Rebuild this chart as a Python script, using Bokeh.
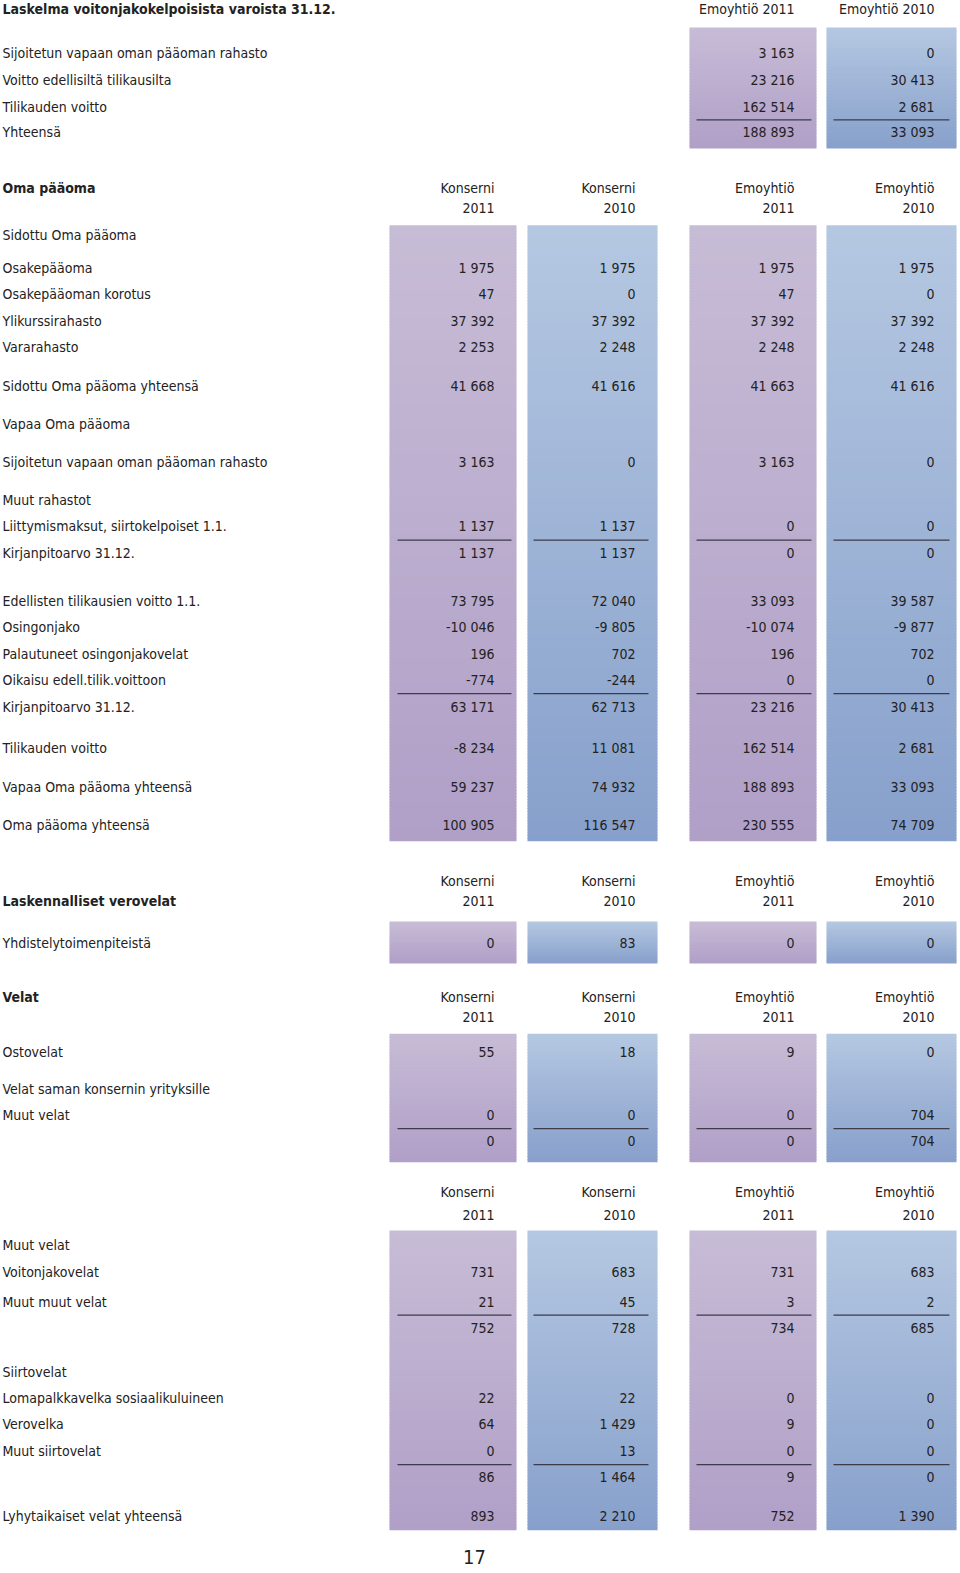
from bokeh.plotting import figure
from bokeh.models import ColumnDataSource, Range1d
from bokeh.core.properties import value
from bokeh.embed import file_html
from bokeh.resources import INLINE

# ---------------- data ----------------
title = "Laskelma voitonjakokelpoisista varoista 31.12."
top_headers = ["Emoyhtiö 2011", "Emoyhtiö 2010"]
col_kind = ["Konserni", "Konserni", "Emoyhtiö", "Emoyhtiö"]
col_year = ["2011", "2010", "2011", "2010"]

top_labels = ["Sijoitetun vapaan oman pääoman rahasto", "Voitto edellisiltä tilikausilta",
              "Tilikauden voitto", "Yhteensä"]
top_emo2011 = [3163, 23216, 162514, 188893]
top_emo2010 = [0, 30413, 2681, 33093]

oma_title = "Oma pääoma"
oma_labels = ["Sidottu Oma pääoma", "Osakepääoma", "Osakepääoman korotus", "Ylikurssirahasto",
              "Vararahasto", "Sidottu Oma pääoma yhteensä", "Vapaa Oma pääoma",
              "Sijoitetun vapaan oman pääoman rahasto", "Muut rahastot",
              "Liittymismaksut, siirtokelpoiset 1.1.", "Kirjanpitoarvo 31.12.",
              "Edellisten tilikausien voitto 1.1.", "Osingonjako", "Palautuneet osingonjakovelat",
              "Oikaisu edell.tilik.voittoon", "Kirjanpitoarvo 31.12.", "Tilikauden voitto",
              "Vapaa Oma pääoma yhteensä", "Oma pääoma yhteensä"]
oma_kon2011 = [None, 1975, 47, 37392, 2253, 41668, None, 3163, None, 1137, 1137,
               73795, -10046, 196, -774, 63171, -8234, 59237, 100905]
oma_kon2010 = [None, 1975, 0, 37392, 2248, 41616, None, 0, None, 1137, 1137,
               72040, -9805, 702, -244, 62713, 11081, 74932, 116547]
oma_emo2011 = [None, 1975, 47, 37392, 2248, 41663, None, 3163, None, 0, 0,
               33093, -10074, 196, 0, 23216, 162514, 188893, 230555]
oma_emo2010 = [None, 1975, 0, 37392, 2248, 41616, None, 0, None, 0, 0,
               39587, -9877, 702, 0, 30413, 2681, 33093, 74709]

vero_title = "Laskennalliset verovelat"
vero_labels = ["Yhdistelytoimenpiteistä"]
vero_kon2011 = [0]
vero_kon2010 = [83]
vero_emo2011 = [0]
vero_emo2010 = [0]

velat_title = "Velat"
velat_labels = ["Ostovelat", "Velat saman konsernin yrityksille", "Muut velat", ""]
velat_kon2011 = [55, None, 0, 0]
velat_kon2010 = [18, None, 0, 0]
velat_emo2011 = [9, None, 0, 0]
velat_emo2010 = [0, None, 704, 704]

muut_labels = ["Muut velat", "Voitonjakovelat", "Muut muut velat", "", "Siirtovelat",
               "Lomapalkkavelka sosiaalikuluineen", "Verovelka", "Muut siirtovelat", "",
               "Lyhytaikaiset velat yhteensä"]
muut_kon2011 = [None, 731, 21, 752, None, 22, 64, 0, 86, 893]
muut_kon2010 = [None, 683, 45, 728, None, 22, 1429, 13, 1464, 2210]
muut_emo2011 = [None, 731, 3, 734, None, 0, 9, 0, 9, 752]
muut_emo2010 = [None, 683, 2, 685, None, 0, 0, 0, 0, 1390]

page_number = "17"

# ---------------- layout / style ----------------
FONT = "Noto Sans Condensed, DejaVu Sans Condensed, Liberation Sans Narrow, Roboto, sans-serif"
FSIZE = "14px"
TXT = "#222222"
RULE = "#3d3a4a"
PURPLE = ((199, 188, 214), (176, 159, 199))
BLUE = ((181, 200, 226), (135, 160, 203))
COL_X = [(389, 516), (527, 657), (689, 816), (826, 956)]
COL_GRAD = [PURPLE, BLUE, PURPLE, BLUE]
NUM_RIGHT = [494, 635, 794, 934]
RULE_X = [(397, 511), (533, 648), (696, 811), (833, 949)]
LABEL_X = 2
SY = 1573 / 1568  # layout rows were measured on the reduced view

sections = [
    dict(labels=top_labels, cols=[None, None, top_emo2011, top_emo2010],
         rows_y=[52, 79, 106, 131], box=(27, 147.5), rules=[2], header=None, title=None),
    dict(labels=oma_labels, cols=[oma_kon2011, oma_kon2010, oma_emo2011, oma_emo2010],
         rows_y=[234, 267, 293, 319, 345, 384, 422, 460, 498, 524, 551, 599, 625, 651, 677,
                 704, 745, 784, 822],
         box=(224, 838), rules=[9, 14], header=(187, 207), title=(oma_title, 187)),
    dict(labels=vero_labels, cols=[vero_kon2011, vero_kon2010, vero_emo2011, vero_emo2010],
         rows_y=[940], box=(918, 960), rules=[], header=(878, 898), title=(vero_title, 898)),
    dict(labels=velat_labels, cols=[velat_kon2011, velat_kon2010, velat_emo2011, velat_emo2010],
         rows_y=[1048, 1085, 1111, 1137], box=(1030, 1158), rules=[2], header=(993, 1013),
         title=(velat_title, 993)),
    dict(labels=muut_labels, cols=[muut_kon2011, muut_kon2010, muut_emo2011, muut_emo2010],
         rows_y=[1241, 1267, 1297, 1323, 1367, 1393, 1419, 1446, 1472, 1511],
         box=(1226, 1525), rules=[2, 7], header=(1188, 1211), title=None),
]
TITLE_Y = 8
PAGE_NO_Y = 1556


def fmt(v):
    s = f"{abs(v):,}".replace(",", " ")
    return ("-" if v < 0 else "") + s


def lerp(c0, c1, t):
    r, g, b = (round(a + (b_ - a) * t) for a, b_ in zip(c0, c1))
    return "#%02x%02x%02x" % (r, g, b)


p = figure(width=960, height=1573, x_range=Range1d(0, 960), y_range=Range1d(1573, 0),
           output_backend="svg", toolbar_location=None, min_border=0,
           x_axis_type=None, y_axis_type=None)
p.grid.visible = False
p.outline_line_color = None
p.background_fill_color = "white"
p.border_fill_color = "white"

# gradient boxes
q = dict(left=[], right=[], top=[], bottom=[], color=[])
for sec in sections:
    y0, y1 = (v * SY for v in sec["box"])
    n = max(8, int((y1 - y0) / 3))
    for ci, col in enumerate(sec["cols"]):
        if col is None:
            continue
        x0, x1 = COL_X[ci]
        c_top, c_bot = COL_GRAD[ci]
        for k in range(n):
            a = y0 + (y1 - y0) * k / n
            b = y0 + (y1 - y0) * (k + 1) / n
            q["left"].append(x0)
            q["right"].append(x1)
            q["top"].append(a)
            q["bottom"].append(min(b + 0.8, y1))
            q["color"].append(lerp(c_top, c_bot, (k + 0.5) / n))
p.quad(left="left", right="right", top="top", bottom="bottom", fill_color="color",
       line_color=None, source=ColumnDataSource(q))

# rules
seg = dict(x0=[], x1=[], y=[])
for sec in sections:
    ys = sec["rows_y"]
    for r in sec["rules"]:
        yy = ((ys[r] + ys[r + 1]) / 2 + 0.5) * SY
        for ci, col in enumerate(sec["cols"]):
            if col is None:
                continue
            seg["x0"].append(RULE_X[ci][0])
            seg["x1"].append(RULE_X[ci][1])
            seg["y"].append(yy)
p.segment(x0="x0", y0="y", x1="x1", y1="y", line_color=RULE, line_width=1.3,
          source=ColumnDataSource(seg))

# texts
lab = dict(x=[], y=[], t=[])
num = dict(x=[], y=[], t=[])
bold = dict(x=[], y=[], t=[])
for sec in sections:
    for i, (lbl, yy) in enumerate(zip(sec["labels"], sec["rows_y"])):
        if lbl:
            lab["x"].append(LABEL_X)
            lab["y"].append(yy * SY)
            lab["t"].append(lbl)
        for ci, col in enumerate(sec["cols"]):
            if col is None or col[i] is None:
                continue
            num["x"].append(NUM_RIGHT[ci])
            num["y"].append(yy * SY)
            num["t"].append(fmt(col[i]))
    if sec["header"]:
        h0, h1 = sec["header"]
        for ci in range(4):
            num["x"] += [NUM_RIGHT[ci], NUM_RIGHT[ci]]
            num["y"] += [h0 * SY, h1 * SY]
            num["t"] += [col_kind[ci], col_year[ci]]
    if sec["title"]:
        bold["x"].append(LABEL_X)
        bold["y"].append(sec["title"][1] * SY)
        bold["t"].append(sec["title"][0])

bold["x"].append(LABEL_X)
bold["y"].append(TITLE_Y)
bold["t"].append(title)
for ci, h in zip([2, 3], top_headers):
    num["x"].append(NUM_RIGHT[ci])
    num["y"].append(TITLE_Y)
    num["t"].append(h)

common = dict(text_baseline="middle", text_font=value(FONT), text_font_size=FSIZE,
              text_color=TXT)
p.text(x="x", y="y", text="t", source=ColumnDataSource(lab), text_align="left", **common)
p.text(x="x", y="y", text="t", source=ColumnDataSource(num), text_align="right", **common)
p.text(x="x", y="y", text="t", source=ColumnDataSource(bold), text_align="left",
       text_font_style="bold", **common)
p.text(x=[474], y=[PAGE_NO_Y], text=[page_number], text_align="center", text_baseline="middle",
       text_font=value(FONT), text_font_size="20px", text_color=TXT)

open("out.html", "w").write(file_html(p, INLINE))
